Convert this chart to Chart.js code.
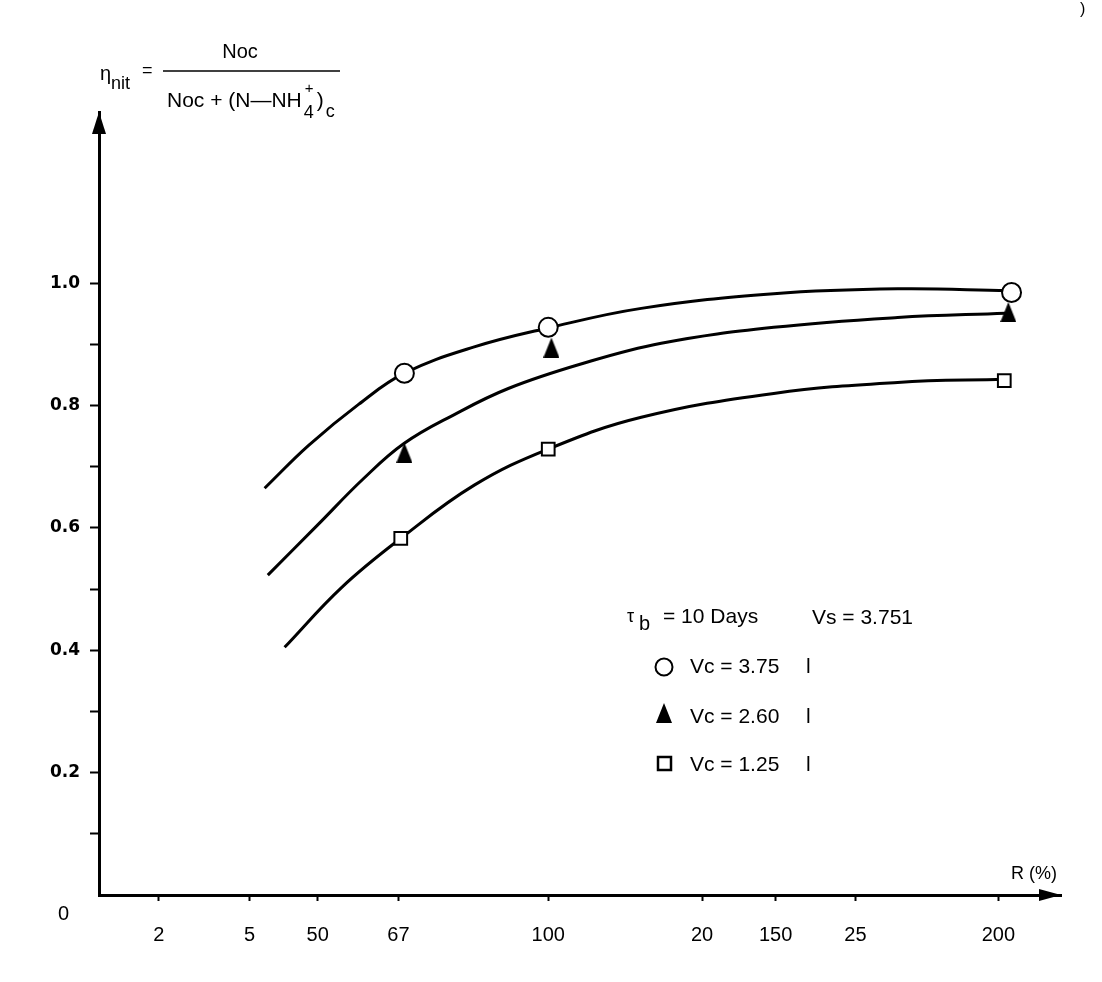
<!DOCTYPE html>
<html>
<head>
<meta charset="utf-8">
<script src="https://cdn.jsdelivr.net/npm/chart.js@4.4.1/dist/chart.umd.min.js"></script>
<style>
  html, body { margin: 0; padding: 0; background: #fff; }
  #wrap { width: 1102px; height: 982px; }
</style>
</head>
<body>
<div id="wrap"><canvas id="chart" width="1102" height="982"></canvas></div>
<script>
// fitted curves (R in %, eta_nit)
const topCurveR = [38.3, 48, 59, 69.1, 84.5, 100.8, 121.3, 150.5, 177.8, 202.0];
const topCurveEta = [0.665, 0.735, 0.802, 0.853, 0.896, 0.927, 0.959, 0.983, 0.991, 0.988];
const midCurveR = [39, 50, 60, 69, 80, 92, 108, 125.7, 150.5, 177.8, 201.5];
const midCurveEta = [0.523, 0.605, 0.680, 0.738, 0.785, 0.828, 0.868, 0.902, 0.928, 0.944, 0.951];
const lowCurveR = [42.7, 55.3, 68.3, 84.5, 100.8, 121.3, 150.5, 177.8, 201.3];
const lowCurveEta = [0.405, 0.503, 0.583, 0.670, 0.729, 0.781, 0.820, 0.838, 0.843];

// measured points
const circleR = [69.1, 100.8, 202.9];
const circleEta = [0.853, 0.928, 0.985];
const triangleR = [69.1, 101.5, 202.2];
const triangleEta = [0.723, 0.895, 0.953];
const squareR = [68.3, 100.8, 201.3];
const squareEta = [0.583, 0.729, 0.841];

// axis ticks as printed (the x axis carries two overlapping label sets)
const xTickValues = [15, 35, 50, 67.8, 100.8, 134.7, 150.9, 168.5, 200];
const xTickLabels = ['2', '5', '50', '67', '100', '20', '150', '25', '200'];
const yTickValues = [0.1, 0.2, 0.3, 0.4, 0.5, 0.6, 0.7, 0.8, 0.9, 1.0];
const yTickLabels = ['', '0.2', '', '0.4', '', '0.6', '', '0.8', '', '1.0'];

const FONT = '"Liberation Sans", Arial, sans-serif';

function toPoints(xs, ys) {
    return xs.map((x, i) => ({ x, y: ys[i] }));
}

function makeTriangleImage(w, h, fill) {
    const c = document.createElement('canvas');
    c.width = w;
    c.height = h;
    const g = c.getContext('2d');
    g.fillStyle = fill;
    g.beginPath();
    g.moveTo(w / 2, 0);
    g.lineTo(w, h);
    g.lineTo(0, h);
    g.closePath();
    g.fill();
    return c;
}

const triangleImg = makeTriangleImage(16, 20, '#000');

function curve(xs, ys) {
    return {
        data: toPoints(xs, ys),
        borderColor: '#000',
        borderWidth: 3,
        pointRadius: 0,
        fill: false,
        tension: 0.4,
        order: 5
    };
}

function text(ctx, s, x, y, size, opts = {}) {
    ctx.font = `${opts.weight || 'normal'} ${size}px ${opts.family || FONT}`;
    ctx.textAlign = opts.align || 'left';
    ctx.textBaseline = 'alphabetic';
    ctx.fillStyle = '#000';
    ctx.fillText(s, x, y);
    return ctx.measureText(s).width;
}

const decorations = {
    id: 'decorations',
    afterDraw(chart) {
        const ctx = chart.ctx;
        const area = chart.chartArea;
        ctx.save();

        // axis arrow heads
        ctx.fillStyle = '#000';
        ctx.beginPath();
        ctx.moveTo(area.left, area.top);
        ctx.lineTo(area.left + 7, area.top + 22);
        ctx.lineTo(area.left - 7, area.top + 22);
        ctx.closePath();
        ctx.fill();
        ctx.beginPath();
        ctx.moveTo(area.right, area.bottom);
        ctx.lineTo(area.right - 22, area.bottom - 6);
        ctx.lineTo(area.right - 22, area.bottom + 6);
        ctx.closePath();
        ctx.fill();

        // corner zero and axis title
        text(ctx, '0', 58, 920, 20);
        text(ctx, 'R (%)', 1011, 879, 18);
        text(ctx, ')', 1080, 14, 16);

        // y axis definition
        text(ctx, 'η', 100, 80, 20);
        text(ctx, 'nit', 111, 89, 18);
        text(ctx, '=', 142, 76, 18);
        ctx.lineWidth = 1.5;
        ctx.strokeStyle = '#000';
        ctx.beginPath();
        ctx.moveTo(163, 71);
        ctx.lineTo(340, 71);
        ctx.stroke();
        text(ctx, 'Noc', 240, 58, 20, { align: 'center' });
        let x = 167;
        x += text(ctx, 'Noc + (N—NH', x, 107, 21);
        text(ctx, '+', x + 3, 93, 15);
        x += text(ctx, '4', x + 2, 118, 18) + 5;
        x += text(ctx, ')', x, 107, 21) + 2;
        text(ctx, 'c', x, 117, 18);

        // key
        text(ctx, 'τ', 627, 622, 18);
        text(ctx, 'b', 639, 630, 20);
        text(ctx, '= 10 Days', 663, 623, 21);
        text(ctx, 'Vs = 3.751', 812, 624, 21);

        ctx.lineWidth = 2;
        ctx.fillStyle = '#fff';
        ctx.beginPath();
        ctx.arc(664, 667, 8.5, 0, Math.PI * 2);
        ctx.fill();
        ctx.stroke();
        text(ctx, 'Vc = 3.75', 690, 673, 21);
        text(ctx, 'l', 806, 673, 21);

        ctx.drawImage(triangleImg, 656, 703);
        text(ctx, 'Vc = 2.60', 690, 723, 21);
        text(ctx, 'l', 806, 723, 21);

        ctx.lineWidth = 2.5;
        ctx.fillStyle = '#fff';
        ctx.fillRect(658, 757, 13, 13);
        ctx.strokeRect(658, 757, 13, 13);
        text(ctx, 'Vc = 1.25', 690, 771, 21);
        text(ctx, 'l', 806, 771, 21);

        ctx.restore();
    }
};

new Chart(document.getElementById('chart'), {
    type: 'line',
    data: {
        datasets: [
            {
                data: toPoints(circleR, circleEta),
                showLine: false,
                pointStyle: 'circle',
                pointRadius: 9.5,
                pointBackgroundColor: '#fff',
                pointBorderColor: '#000',
                pointBorderWidth: 2,
                order: 1
            },
            {
                data: toPoints(triangleR, triangleEta),
                showLine: false,
                pointStyle: triangleImg,
                order: 2
            },
            {
                data: toPoints(squareR, squareEta),
                showLine: false,
                pointStyle: 'rect',
                pointRadius: 9,
                pointBackgroundColor: '#fff',
                pointBorderColor: '#000',
                pointBorderWidth: 2,
                order: 1
            },
            curve(topCurveR, topCurveEta),
            curve(midCurveR, midCurveEta),
            curve(lowCurveR, lowCurveEta)
        ]
    },
    options: {
        responsive: false,
        animation: false,
        events: [],
        layout: { padding: { left: 0, right: 41, top: 112, bottom: 0 }, autoPadding: false },
        plugins: { legend: { display: false }, tooltip: { enabled: false } },
        scales: {
            x: {
                type: 'linear',
                min: 1.8,
                max: 213.8,
                afterBuildTicks(scale) {
                    scale.ticks = xTickValues.map(v => ({ value: v }));
                },
                afterFit(scale) {
                    scale.height = 87;
                },
                border: { display: true, color: '#000', width: 3 },
                grid: { drawOnChartArea: false, drawTicks: true, tickLength: 6, tickWidth: 2, tickColor: '#000' },
                ticks: {
                    autoSkip: false,
                    maxRotation: 0,
                    padding: 22,
                    color: '#000',
                    font: { family: FONT, size: 20 },
                    callback(value, index) {
                        return xTickLabels[index];
                    }
                }
            },
            y: {
                type: 'linear',
                min: 0,
                max: 1.28,
                afterBuildTicks(scale) {
                    scale.ticks = yTickValues.map(v => ({ value: v }));
                },
                afterFit(scale) {
                    scale.width = 99;
                },
                border: { display: true, color: '#000', width: 3 },
                grid: { drawOnChartArea: false, drawTicks: true, tickLength: 9, tickWidth: 2, tickColor: '#000' },
                ticks: {
                    autoSkip: false,
                    padding: 10,
                    color: '#000',
                    font: { family: '"DejaVu Sans", sans-serif', size: 17, weight: 'bold' },
                    callback(value, index) {
                        return yTickLabels[index];
                    }
                }
            }
        }
    },
    plugins: [decorations]
});
</script>
</body>
</html>
